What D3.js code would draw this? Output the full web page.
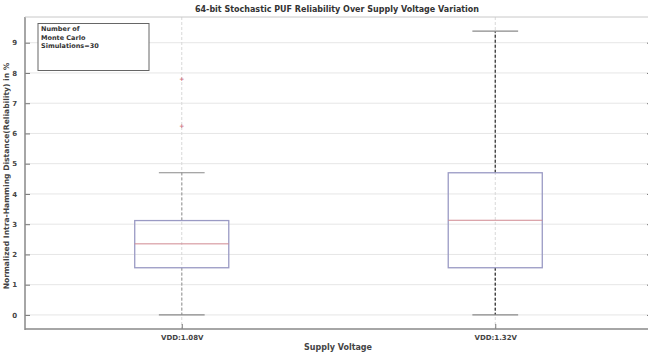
<!DOCTYPE html>
<html><head><meta charset="utf-8">
<script src="https://cdn.jsdelivr.net/npm/d3@7"></script>
<style>body{margin:0;background:#fff}svg{display:block}text{font-family:"DejaVu Sans",sans-serif;font-weight:bold}</style>
</head><body>
<script>
const categories = ["VDD:1.08V", "VDD:1.32V"];
const lowerWhisker = [0, 0];
const q1 = [1.56, 1.56];
const median = [2.35, 3.13];
const q3 = [3.12, 4.70];
const upperWhisker = [4.70, 9.38];
const outliers = [[7.81, 6.26], []];
const yTicks = [0,1,2,3,4,5,6,7,8,9];
const whiskerColors = ["#a8a8a8", "#333333"];

const W = 648, H = 353;
const m = {left: 25, top: 17, right: 652, bottom: 329};
const svg = d3.select("body").append("svg").attr("width", W).attr("height", H);

const x = d3.scaleLinear().domain([0.5, 2.5]).range([m.left, m.right]);
const y = d3.scaleLinear().domain([-0.465, 9.85]).range([m.bottom, m.top]);

// grid
svg.append("g").selectAll("line").data(yTicks).join("line")
  .attr("x1", m.left).attr("x2", m.right).attr("y1", d=>y(d)).attr("y2", d=>y(d))
  .attr("stroke", "#e6e6e6").attr("stroke-width", 1);
svg.append("g").selectAll("line").data(categories).join("line")
  .attr("x1", (d,i)=>x(i+1)).attr("x2", (d,i)=>x(i+1)).attr("y1", m.top).attr("y2", m.bottom)
  .attr("stroke", "#d8d8d8").attr("stroke-width", 1).attr("stroke-dasharray", "3,2");

// axes
const yAxis = d3.axisLeft(y).tickValues(yTicks).tickSize(-5).tickPadding(8).tickFormat(d3.format("d"));
const gy = svg.append("g").attr("transform", `translate(${m.left},0)`).call(yAxis);
gy.select(".domain").remove();
gy.selectAll(".tick line").attr("stroke", "#777");
gy.selectAll(".tick text").attr("font-size", 7).attr("fill", "#444");
const yAxisR = d3.axisRight(y).tickValues(yTicks).tickSize(-5).tickFormat("");
const gyr = svg.append("g").attr("transform", `translate(${m.right},0)`).call(yAxisR);
gyr.select(".domain").remove();
gyr.selectAll(".tick line").attr("stroke", "#777");

const xAxis = d3.axisBottom(x).tickValues([1,2]).tickSize(-5).tickPadding(6).tickFormat((d)=>categories[d-1]);
const gx = svg.append("g").attr("transform", `translate(0,${m.bottom})`).call(xAxis);
gx.select(".domain").remove();
gx.selectAll(".tick line").attr("stroke", "#777");
gx.selectAll(".tick text").attr("font-size", 7).attr("fill", "#444");

svg.append("line").attr("x1", m.left).attr("x2", m.left).attr("y1", m.top).attr("y2", m.bottom+1)
  .attr("stroke", "#888").attr("stroke-width", 1.5);
svg.append("line").attr("x1", m.left).attr("x2", m.right).attr("y1", m.bottom).attr("y2", m.bottom)
  .attr("stroke", "#888").attr("stroke-width", 1.5);
svg.append("line").attr("x1", m.left).attr("x2", m.right).attr("y1", m.top).attr("y2", m.top)
  .attr("stroke", "#c8c8c8").attr("stroke-width", 1);

// boxes
const bw = 0.15; // half width in data units
const cw = 0.073;
categories.forEach((c, i) => {
  const cx = i + 1;
  const g = svg.append("g");
  g.append("line").attr("x1", x(cx)).attr("x2", x(cx)).attr("y1", y(q3[i])).attr("y2", y(upperWhisker[i]))
    .attr("stroke", whiskerColors[i]).attr("stroke-width", 1.3).attr("stroke-dasharray", "3,2");
  g.append("line").attr("x1", x(cx)).attr("x2", x(cx)).attr("y1", y(q1[i])).attr("y2", y(lowerWhisker[i]))
    .attr("stroke", whiskerColors[i]).attr("stroke-width", 1.3).attr("stroke-dasharray", "3,2");
  [upperWhisker[i], lowerWhisker[i]].forEach(v => {
    g.append("line").attr("x1", x(cx-cw)).attr("x2", x(cx+cw)).attr("y1", y(v)).attr("y2", y(v))
      .attr("stroke", "#8a8a8a").attr("stroke-width", 1.2);
  });
  g.append("rect").attr("x", x(cx-bw)).attr("y", y(q3[i]))
    .attr("width", x(cx+bw)-x(cx-bw)).attr("height", y(q1[i])-y(q3[i]))
    .attr("fill", "none").attr("stroke", "#9a9ac4").attr("stroke-width", 1.3);
  g.append("line").attr("x1", x(cx-bw)).attr("x2", x(cx+bw)).attr("y1", y(median[i])).attr("y2", y(median[i]))
    .attr("stroke", "#d08890").attr("stroke-width", 1);
  g.selectAll("text.o").data(outliers[i]).join("text").attr("class","o")
    .attr("x", x(cx)).attr("y", d=>y(d)).attr("dy", "0.35em").attr("text-anchor", "middle")
    .attr("font-size", 6).attr("fill", "#d07080").attr("font-weight", "normal").text("+");
});

// legend box
svg.append("rect").attr("x", 38).attr("y", 23.5).attr("width", 111).attr("height", 47)
  .attr("fill", "#fff").attr("stroke", "#666").attr("stroke-width", 1);
["Number of", "Monte Carlo", "Simulations=30"].forEach((t, i) => {
  svg.append("text").attr("x", 41).attr("y", 31 + i*8.5).attr("font-size", 6.5).attr("fill", "#333").text(t);
});

// title & labels
svg.append("text").attr("x", 337).attr("y", 12).attr("text-anchor", "middle")
  .attr("font-size", 8).attr("fill", "#333").text("64-bit Stochastic PUF Reliability Over Supply Voltage Variation");
svg.append("text").attr("x", 338).attr("y", 350).attr("text-anchor", "middle")
  .attr("font-size", 8).attr("fill", "#444").text("Supply Voltage");
svg.append("text").attr("transform", "translate(9,176) rotate(-90)").attr("text-anchor", "middle")
  .attr("font-size", 7.6).attr("fill", "#444").text("Normalized Intra-Hamming Distance(Reliability) in %");
</script>
</body></html>
